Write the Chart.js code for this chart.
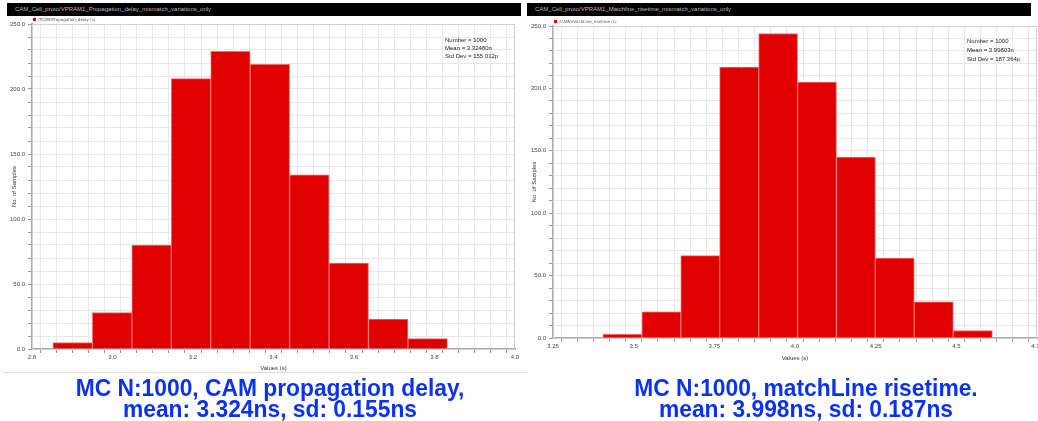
<!DOCTYPE html>
<html lang="en">
<head>
<meta charset="UTF-8">
<title>MC histograms</title>
<script src="https://cdn.jsdelivr.net/npm/chart.js"></script>
<style>
  body { margin:0; background:#fff; width:1038px; height:421px; overflow:hidden; position:relative; font-family:"Liberation Sans", Arial, sans-serif; }
  .panel { position:absolute; top:3px; }
  .bar { background:#000; color:#bbb; font-size:6px; height:13px; line-height:13px; padding-left:8px; white-space:nowrap; overflow:hidden; box-sizing:border-box; }
  .caption { position:absolute; color:#0a32f0; font-family:"Liberation Sans", Arial, sans-serif; font-weight:bold; font-size:24px; line-height:21px; text-align:center; transform:scaleX(0.95); }
  .sep { position:absolute; left:3px; top:372px; width:524px; height:1px; background:#ddd; }
</style>
</head>
<body>
  <div class="panel" style="left:7px; width:514px;">
    <div class="bar">CAM_Cell_proto/VPRAM1_Propagation_delay_mismatch_variations_only</div>
    <canvas id="histLeft" width="514" height="360" style="display:block"></canvas>
  </div>
  <div class="panel" style="left:527px; width:511px;">
    <div class="bar" style="width:504px">CAM_Cell_proto/VPRAM1_Matchline_risetime_mismatch_variations_only</div>
    <canvas id="histRight" width="511" height="350" style="display:block"></canvas>
  </div>
  <div class="sep"></div>
  <div class="caption" style="left:10px; width:520px; top:377px;">MC N:1000, CAM propagation delay,<br>mean: 3.324ns, sd: 0.155ns</div>
  <div class="caption" style="left:550px; width:512px; top:377px;">MC N:1000, matchLine risetime.<br>mean: 3.998ns, sd: 0.187ns</div>

<script>
// bin centres (ns) and counts
const leftBins   = [2.901, 2.999, 3.097, 3.195, 3.293, 3.391, 3.489, 3.587, 3.685, 3.783];
const leftCounts = [5, 28, 80, 208, 229, 219, 134, 66, 23, 8];
const rightBins   = [3.465, 3.586, 3.706, 3.827, 3.948, 4.068, 4.189, 4.309, 4.430, 4.551];
const rightCounts = [3, 21, 66, 217, 244, 205, 145, 64, 29, 6];

const leftXMajor  = [2.8, 3.0, 3.2, 3.4, 3.6, 3.8, 4.0];
const leftXLabels = ['2.8', '3.0', '3.2', '3.4', '3.6', '3.8', '4.0'];
const rightXMajor  = [3.25, 3.5, 3.75, 4.0, 4.25, 4.5, 4.75];
const rightXLabels = ['3.25', '3.5', '3.75', '4.0', '4.25', '4.5', '4.75'];
const yMajor  = [0, 50, 100, 150, 200, 250];
const yLabels = ['0.0', '50.0', '100.0', '150.0', '200.0', '250.0'];

const leftStats  = ['Number = 1000', 'Mean = 3.32480n', 'Std Dev = 155.012p'];
const rightStats = ['Number = 1000', 'Mean = 3.99803n', 'Std Dev = 187.364p'];

function labelFor(v, major, labels) {
  const i = major.findIndex(m => Math.abs(m - v) < 1e-6);
  return i >= 0 ? labels[i] : '';
}

const extras = {
  id: 'extras',
  afterDraw(chart, args, o) {
    const { ctx, chartArea: a } = chart;
    ctx.save();
    ctx.strokeStyle = '#d0d0d0';
    ctx.lineWidth = 1;
    ctx.strokeRect(a.left + 0.5, a.top + 0.5, a.right - a.left - 1, a.bottom - a.top);
    // legend
    ctx.fillStyle = '#e00000';
    ctx.fillRect(a.left + 1, a.top - 6, 3, 3);
    ctx.fillStyle = '#555';
    ctx.font = '4px "DejaVu Sans"';
    ctx.textBaseline = 'middle';
    ctx.fillText(o.legend, a.left + 6, a.top - 4.5);
    // stats box
    ctx.fillStyle = '#222';
    ctx.font = '6px "Liberation Sans"';
    o.stats.forEach((s, i) => ctx.fillText(s, a.right - 70, a.top + o.statTop + i * o.statGap));
    ctx.restore();
  }
};

function makeHist(id, bins, counts, xr, yTitleGap, xHeight, top, legend, statTop, statGap) {
  new Chart(document.getElementById(id), {
    type: 'bar',
    data: {
      datasets: [{
        data: bins.map((b, i) => ({ x: b, y: counts[i] })),
        backgroundColor: '#e00000',
        borderColor: '#f26a6a',
        borderWidth: 1,
        barThickness: 'flex',
        barPercentage: 1,
        categoryPercentage: 1
      }]
    },
    options: {
      responsive: false,
      animation: false,
      layout: { padding: { top: top, right: xr.padRight, left: 0, bottom: 0 } },
      plugins: {
        legend: { display: false },
        tooltip: { enabled: false },
        extras: { legend: legend, stats: xr.stats, statTop: statTop, statGap: statGap }
      },
      scales: {
        x: {
          type: 'linear',
          min: xr.min, max: xr.max,
          offset: false,
          afterFit: s => { s.height = xHeight; s.paddingLeft = 0; s.paddingRight = 0; },
          grid: { color: '#e8e8e8', tickLength: 4, tickColor: '#999' },
          border: { color: '#aaa', width: 2 },
          ticks: {
            stepSize: xr.step, autoSkip: false, maxRotation: 0, padding: 1,
            color: '#444', font: { size: 6, family: 'Liberation Sans' },
            callback: v => labelFor(v, xr.major, xr.labels)
          },
          title: { display: true, text: 'Values (s)', color: '#333', font: { size: 6, family: 'Liberation Sans' }, padding: 4 }
        },
        y: {
          min: 0, max: 250,
          afterFit: s => { s.width = yTitleGap; },
          grid: { color: '#e8e8e8', tickLength: 4, tickColor: '#999' },
          border: { color: '#aaa', width: 2 },
          ticks: {
            stepSize: 10, autoSkip: false, padding: 3,
            color: '#444', font: { size: 6, family: 'Liberation Sans' },
            callback: v => labelFor(v, yMajor, yLabels)
          },
          title: { display: true, text: 'No. of Samples', color: '#333', font: { size: 6, family: 'Liberation Sans' }, padding: 4 }
        }
      }
    },
    plugins: [extras]
  });
}

makeHist('histLeft', leftBins, leftCounts,
  { min: 2.8, max: 4.0, step: 0.04, major: leftXMajor, labels: leftXLabels, stats: leftStats, padRight: 6 },
  25, 27, 8, '/TCAM/Propagation_delay (s)', 16, 8);

makeHist('histRight', rightBins, rightCounts,
  { min: 3.25, max: 4.75, step: 0.05, major: rightXMajor, labels: rightXLabels, stats: rightStats, padRight: 1 },
  26, 28, 10, '/CAM/matchLine_risetime (s)', 15, 9);
</script>
</body>
</html>
